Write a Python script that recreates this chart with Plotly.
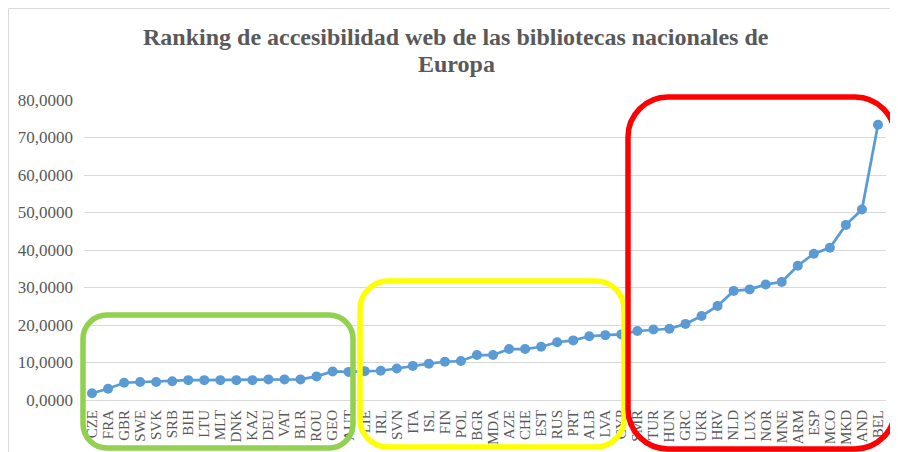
import plotly.graph_objects as go

# países ordenados por puntuación
paises = ['CZE', 'FRA', 'GBR', 'SWE', 'SVK', 'SRB', 'BIH', 'LTU', 'MLT', 'DNK',
          'KAZ', 'DEU', 'VAT', 'BLR', 'ROU', 'GEO', 'AUT', 'LIE', 'IRL', 'SVN',
          'ITA', 'ISL', 'FIN', 'POL', 'BGR', 'MDA', 'AZE', 'CHE', 'EST', 'RUS',
          'PRT', 'ALB', 'LVA', 'CYP', 'SMR', 'TUR', 'HUN', 'GRC', 'UKR', 'HRV',
          'NLD', 'LUX', 'NOR', 'MNE', 'ARM', 'ESP', 'MCO', 'MKD', 'AND', 'BEL']
puntuacion = [1.8, 3.0, 4.6, 4.8, 4.8, 5.0, 5.3, 5.3, 5.3, 5.3,
              5.3, 5.5, 5.5, 5.5, 6.3, 7.6, 7.5, 7.7, 7.8, 8.4,
              9.1, 9.7, 10.2, 10.4, 12.0, 12.0, 13.6, 13.6, 14.2, 15.4,
              15.9, 17.0, 17.3, 17.5, 18.4, 18.8, 19.0, 20.3, 22.4, 25.1,
              29.1, 29.5, 30.8, 31.5, 35.8, 39.0, 40.6, 46.7, 50.8, 73.4]

TITULO = ['Ranking de accesibilidad web de las bibliotecas nacionales de', 'Europa']
GRIS = '#595959'
FUENTE = 'Liberation Serif'

# la página tiene 8px de margen, todo se mide en coordenadas de la ventana
OFF = 8
W, H = 898 - OFF, 452 - OFF
L, T = 84 - OFF, 100 - OFF
R, B = W - (886 - OFF), H - (400 - OFF)
PW, PH = W - L - R, H - T - B


def px2paper(px, py):
    return (px - OFF - L) / PW, (T + PH - (py - OFF)) / PH


def rounded_rect(x0, y0, x1, y1, r):
    k = 0.5523 * r
    pts = [
        ('M', [(x0 + r, y0)]),
        ('L', [(x1 - r, y0)]),
        ('C', [(x1 - r + k, y0), (x1, y0 + r - k), (x1, y0 + r)]),
        ('L', [(x1, y1 - r)]),
        ('C', [(x1, y1 - r + k), (x1 - r + k, y1), (x1 - r, y1)]),
        ('L', [(x0 + r, y1)]),
        ('C', [(x0 + r - k, y1), (x0, y1 - r + k), (x0, y1 - r)]),
        ('L', [(x0, y0 + r)]),
        ('C', [(x0, y0 + r - k), (x0 + r - k, y0), (x0 + r, y0)]),
    ]
    s = ''
    for cmd, coords in pts:
        s += cmd + ' ' + ' '.join('%.5f,%.5f' % px2paper(x, y) for x, y in coords) + ' '
    return s + 'Z'


fig = go.Figure()
fig.add_trace(go.Scatter(
    x=paises, y=puntuacion, mode='lines+markers',
    line=dict(color='#5b9bd5', width=2.75),
    marker=dict(color='#5b9bd5', size=10),
    showlegend=False,
))

shapes = []
# borde exterior del gráfico
shapes.append(dict(type='path', xref='paper', yref='paper', layer='below',
                   path=rounded_rect(8.5, 8.5, 896, 470, 0.001),
                   line=dict(color='#d9d9d9', width=1)))
# grupos marcados
for (x0, y0, x1, y1, r, col) in [
    (83, 315, 353, 448, 24, '#92d050'),
    (360, 281, 624, 447, 28, '#ffff00'),
    (628, 97, 895, 449, 40, '#ff0000'),
]:
    shapes.append(dict(type='path', xref='paper', yref='paper', layer='above',
                       path=rounded_rect(x0, y0, x1, y1, r),
                       line=dict(color=col, width=5.5)))

# título en dos líneas, más juntas que el interlineado de plotly
annotations = []
for linea, yc in zip(TITULO, [37, 64]):
    xp, yp = px2paper(456, yc)
    annotations.append(dict(text='<b>%s</b>' % linea, x=xp, y=yp, xref='paper', yref='paper',
                            xanchor='center', yanchor='middle', showarrow=False,
                            font=dict(family=FUENTE, size=24, color=GRIS)))

fig.update_layout(
    width=W, height=H,
    margin=dict(l=L, r=R, t=T, b=B),
    paper_bgcolor='white', plot_bgcolor='white',
    separators=',.',
    font=dict(family=FUENTE, color=GRIS, size=15),
    shapes=shapes,
    annotations=annotations,
)
fig.update_xaxes(
    type='category', tickmode='array', tickvals=paises, ticktext=paises,
    tickangle=-90, showgrid=False, showline=False, ticks='',
    tickfont=dict(family=FUENTE, size=15, color=GRIS), automargin=False,
    ticklabelstandoff=6, range=[-0.5, len(paises) - 0.5],
)
fig.update_yaxes(
    range=[0, 80], dtick=10, tickformat='.4f', showgrid=True, gridcolor='#d9d9d9',
    gridwidth=1, zeroline=True, zerolinecolor='#d9d9d9', zerolinewidth=1,
    showline=False, ticks='', tickfont=dict(family=FUENTE, size=17, color=GRIS),
    automargin=False, ticklabelstandoff=10,
)

fig.write_html('out.html')
